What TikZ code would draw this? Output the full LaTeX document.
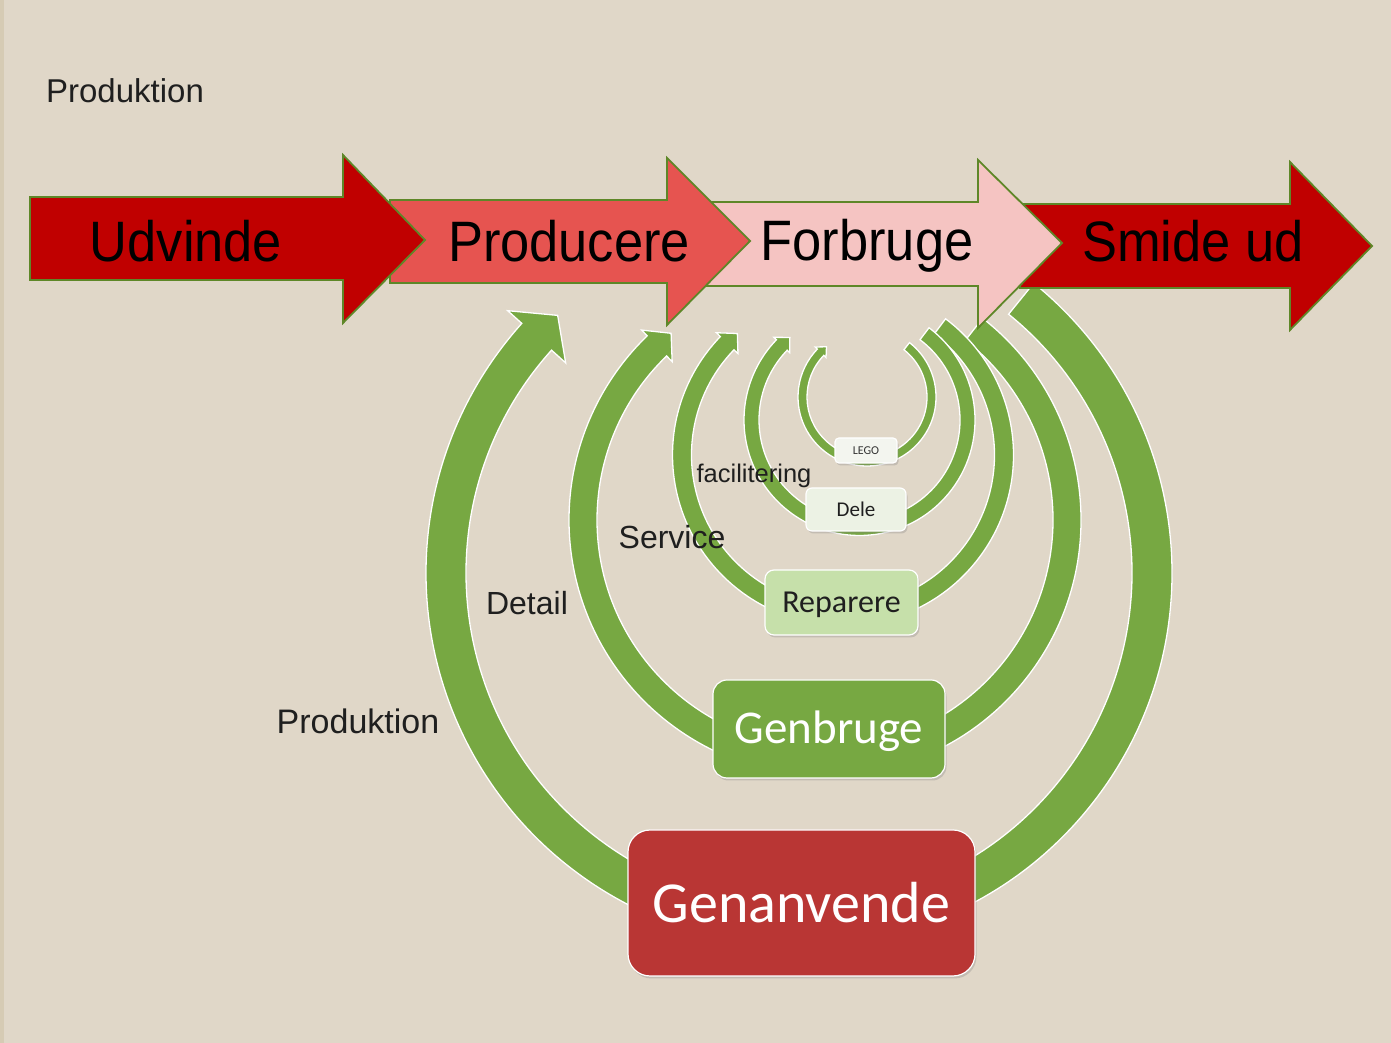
\documentclass[tikz,border=0pt]{standalone}
\usepackage{fontspec}
\setmainfont{Liberation Sans}
\newfontfamily\arrowfont[FakeStretch=0.92]{Liberation Sans}
\newfontfamily\boxfont{Carlito}
\usetikzlibrary{shadows,calc}
\definecolor{bg}{RGB}{224,215,200}
\definecolor{bgedge}{RGB}{214,203,180}
\definecolor{arcgreen}{RGB}{119,168,66}
\definecolor{darkred}{RGB}{192,0,0}
\definecolor{midred}{RGB}{230,84,80}
\definecolor{pinkish}{RGB}{245,196,194}
\definecolor{olive}{RGB}{94,135,40}
\definecolor{boxred}{RGB}{185,54,52}
\definecolor{lightgreen}{RGB}{198,224,170}
\definecolor{palegreen}{RGB}{236,242,228}
\definecolor{palest}{RGB}{243,245,239}
\tikzset{
  blockarrow/.style={draw=olive, line width=1.8pt, line join=miter},
  arcshape/.style={fill=arcgreen, draw=white, line width=1.3pt},
  boxbase/.style={rounded corners=#1, draw=white, line width=1.2pt,
    drop shadow={opacity=0.3, shadow xshift=1.5pt, shadow yshift=-2.5pt},
    inner sep=0pt, text depth=0pt},
  lbl/.style={font=\fontsize{33}{36}\selectfont, text=black!88},
  arrowtext/.style={font=\arrowfont\fontsize{57}{60}\selectfont, text=black, anchor=base},
}
% center x, center y, radius, width, head width, head length, base angle, end angle
\newcommand\garc[8]{%
  \begin{scope}[shift={(#1,#2)}]
    \path[arcshape] (#8:{#3+#4/2})
      arc[start angle=#8, end angle={#7-360}, radius={#3+#4/2}]
      -- ({#7-360}:{#3+#5/2})
      -- ({#7-360-#6/#3*57.2958}:{#3})
      -- ({#7-360}:{#3-#5/2})
      -- ({#7-360}:{#3-#4/2})
      arc[start angle={#7-360}, end angle=#8, radius={#3-#4/2}]
      -- cycle;
  \end{scope}}
\begin{document}
\begin{tikzpicture}[x=1pt,y=1pt]
\useasboundingbox (0,0) rectangle (1391,1043);
\fill[bg] (0,0) rectangle (1391,1043);
\fill[bgedge] (0,0) rectangle (4,1043);

% green loops
\garc{799}{470}{353}{40}{78}{30}{138}{51}
\garc{825}{523}{242}{28}{44}{19}{134}{52}
\garc{843}{588}{161}{19}{30}{14}{136}{53}
\garc{859.5}{623}{108}{15}{22}{11}{136}{53}
\garc{867}{646}{64.5}{9}{15}{8}{136}{52}

% block arrows (drawn back to front)
\path[blockarrow, fill=darkred] (1020,839) -- (1290,839) -- (1290,881) -- (1372,797)
  -- (1290,713) -- (1290,755) -- (1020,755) -- cycle;
\path[blockarrow, fill=pinkish] (700,841) -- (978,841) -- (978,883) -- (1062,800)
  -- (978,715) -- (978,757) -- (700,757) -- cycle;
\path[blockarrow, fill=midred] (390,843) -- (667,843) -- (667,885) -- (750,802)
  -- (667,718) -- (667,760) -- (390,760) -- cycle;
\path[blockarrow, fill=darkred] (30,846) -- (343,846) -- (343,888) -- (425,803)
  -- (343,720) -- (343,763) -- (30,763) -- cycle;

\node[arrowtext] (udvinde) at (186,781) {Udvinde};
\node[arrowtext] (producere) at (569,781) {Producere};
\node[arrowtext] (forbruge) at (867,782) {Forbruge};
\node[arrowtext] (smide) at (1193,781) {Smide ud};

% boxes
\node[boxbase=22pt, fill=boxred, minimum width=347pt, minimum height=146pt, text height=40pt,
  font=\boxfont\fontsize{58}{62}\selectfont, text=white] (genanvende) at (801.5,140) {Genanvende};
\node[boxbase=14pt, fill=arcgreen, minimum width=232pt, minimum height=98pt, text height=30pt,
  font=\boxfont\fontsize{47}{50}\selectfont, text=white] (genbruge) at (829,314) {Genbruge};
\node[boxbase=9pt, fill=lightgreen, minimum width=153pt, minimum height=65pt, text height=20.5pt,
  font=\boxfont\fontsize{32}{35}\selectfont, text=black!88] (reparere) at (841.5,440.5) {Reparere};
\node[boxbase=6pt, fill=palegreen, minimum width=100pt, minimum height=43pt, text height=13.5pt,
  font=\boxfont\fontsize{21}{24}\selectfont, text=black!88] (dele) at (856,533.5) {Dele};
\node[boxbase=4pt, fill=palest, minimum width=62pt, minimum height=25pt, text height=7.8pt,
  font=\boxfont\fontsize{12}{14}\selectfont, text=black!80] (lego) at (866,592.5) {LEGO};

% labels
\node[lbl] (prodtop) at (125,952) {Produktion};
\node[lbl, font=\fontsize{34}{37}\selectfont] (prodmid) at (358,322) {Produktion};
\node[lbl, font=\fontsize{32}{35}\selectfont] (detail) at (527,440) {Detail};
\node[lbl, font=\fontsize{32}{35}\selectfont] (service) at (672,506) {Service};
\node[lbl, font=\fontsize{25.5}{28}\selectfont] (facil) at (754,567) {facilitering};
\end{tikzpicture}
\end{document}
